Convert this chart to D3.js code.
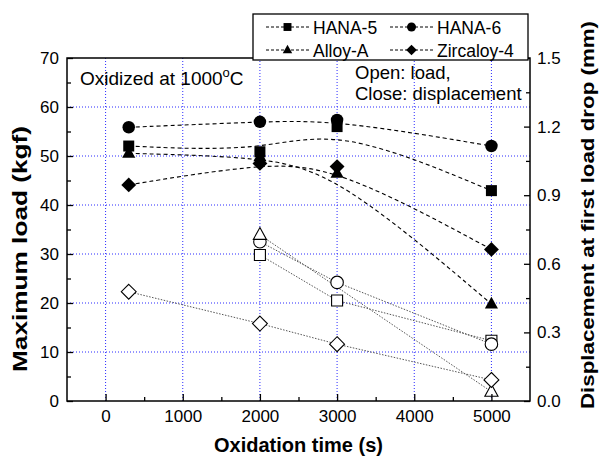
<!DOCTYPE html>
<html><head><meta charset="utf-8">
<script src="https://cdn.jsdelivr.net/npm/d3@7"></script>
<style>
body{margin:0;background:#fff;}
svg{display:block;font-family:"Liberation Sans",Arial,sans-serif;}
</style></head>
<body><svg id="c" width="600" height="457"></svg>
<script>
// ---- data ----
const times = [300, 2000, 3000, 5000];
const seriesNames = ["HANA-5", "HANA-6", "Alloy-A", "Zircaloy-4"];
const seriesSymbols = ["square", "circle", "triangle", "diamond"];
// closed symbols: displacement at first load drop (mm), right axis
const dispHANA5 = [1.115, 1.090, 1.200, 0.920];
const dispHANA6 = [1.197, 1.221, 1.229, 1.115];
const dispAlloyA = [1.083, 1.068, 0.996, 0.424];
const dispZry4 = [0.945, 1.039, 1.025, 0.663];
// open symbols: maximum load (kgf), left axis
const loadHANA5 = [null, 29.8, 20.5, 12.3];
const loadHANA6 = [null, 32.5, 24.2, 11.6];
const loadAlloyA = [null, 33.9, null, 1.9];
const loadZry4 = [22.3, 15.8, 11.6, 4.3];
const xTicks = [0, 1000, 2000, 3000, 4000, 5000];
const yLeftTicks = [0, 10, 20, 30, 40, 50, 60, 70];
const yRightTicks = [0.0, 0.3, 0.6, 0.9, 1.2, 1.5];

const dispData = [dispHANA5, dispHANA6, dispAlloyA, dispZry4];
const loadData = [loadHANA5, loadHANA6, loadAlloyA, loadZry4];

// ---- layout ----
const L = 67, R = 530, T = 58, B = 401;
const svg = d3.select("#c");
const x = d3.scaleLinear().domain([-500, 5500]).range([L, R]);
const yL = d3.scaleLinear().domain([0, 70]).range([B, T]);
const yR = d3.scaleLinear().domain([0, 1.5]).range([B, T]);

// grid
const grid = svg.append("g").attr("stroke", "#2a2aff").attr("stroke-width", 1).attr("stroke-dasharray", "1,2");
grid.selectAll(".gx").data(xTicks).join("line")
  .attr("x1", d => x(d)).attr("x2", d => x(d)).attr("y1", T).attr("y2", B);
grid.selectAll(".gy").data(yLeftTicks.filter(d => d > 0 && d < 70)).join("line")
  .attr("x1", L).attr("x2", R).attr("y1", d => yL(d)).attr("y2", d => yL(d));

// marker path
function sym(type, s) {
  if (type === "square") return d3.symbol(d3.symbolSquare, s * s)();
  if (type === "circle") return d3.symbol(d3.symbolCircle, Math.PI * s * s / 4)();
  if (type === "triangle") {
    const h = s * 0.95, w = s * 1.05;
    return `M0,${-h * 0.62}L${w / 2},${h * 0.38}L${-w / 2},${h * 0.38}Z`;
  }
  const r = s * 0.62;
  return `M0,${-r}L${r},0L0,${r}L${-r},0Z`;
}
const symSize = {square: 11, circle: 12.5, triangle: 12.5, diamond: 12};

// open (load) lines
const openLine = d3.line().x(d => x(d[0])).y(d => yL(d[1])).curve(d3.curveLinear);
loadData.forEach((arr, i) => {
  const pts = times.map((t, j) => [t, arr[j]]).filter(d => d[1] != null);
  svg.append("path").attr("d", openLine(pts)).attr("fill", "none")
    .attr("stroke", "#555").attr("stroke-width", 1).attr("stroke-dasharray", "1.5,1.5");
});
// closed (displacement) lines
const closedLine = d3.line().x(d => x(d[0])).y(d => yR(d[1])).curve(d3.curveBasis);
dispData.forEach((arr, i) => {
  const pts = times.map((t, j) => [t, arr[j]]);
  svg.append("path").attr("d", closedLine(pts)).attr("fill", "none")
    .attr("stroke", "#000").attr("stroke-width", 1.1).attr("stroke-dasharray", "4,3");
});
loadData.forEach((arr, i) => {
  const pts = times.map((t, j) => [t, arr[j]]).filter(d => d[1] != null);
  svg.append("g").selectAll("path").data(pts).join("path")
    .attr("transform", d => `translate(${x(d[0])},${yL(d[1])})`)
    .attr("d", sym(seriesSymbols[i], symSize[seriesSymbols[i]]))
    .attr("fill", "#fff").attr("stroke", "#000").attr("stroke-width", 1.1);
});
dispData.forEach((arr, i) => {
  const pts = times.map((t, j) => [t, arr[j]]);
  svg.append("g").selectAll("path").data(pts).join("path")
    .attr("transform", d => `translate(${x(d[0])},${yR(d[1])})`)
    .attr("d", sym(seriesSymbols[i], symSize[seriesSymbols[i]]))
    .attr("fill", "#000");
});

// axes
const fs = "17px";
function styleAxis(g) {
  g.select(".domain").remove();
  g.selectAll("line").attr("stroke", "#000").attr("stroke-width", 1.3);
  g.selectAll("text").attr("font-size", fs).attr("fill", "#000").attr("font-family", null);
}
svg.append("g").attr("transform", `translate(0,${B})`)
  .call(d3.axisBottom(x).tickValues(xTicks).tickSize(-7).tickPadding(9).tickFormat(d3.format("d"))).call(styleAxis);
svg.append("g").attr("transform", `translate(0,${B})`)
  .call(d3.axisBottom(x).tickValues(d3.range(500, 5000, 1000)).tickSize(-4).tickFormat("")).call(styleAxis);
svg.append("g").attr("transform", `translate(${L},0)`)
  .call(d3.axisLeft(yL).tickValues(yLeftTicks).tickSize(-6).tickPadding(8).tickFormat(d3.format("d"))).call(styleAxis);
svg.append("g").attr("transform", `translate(${L},0)`)
  .call(d3.axisLeft(yL).tickValues(d3.range(5, 70, 10)).tickSize(-4).tickFormat("")).call(styleAxis);
svg.append("g").attr("transform", `translate(${R},0)`)
  .call(d3.axisRight(yR).tickValues(yRightTicks).tickSize(-6).tickPadding(7).tickFormat(d3.format(".1f"))).call(styleAxis);
svg.append("g").attr("transform", `translate(${R},0)`)
  .call(d3.axisRight(yR).tickValues([0.15, 0.45, 0.75, 1.05, 1.35]).tickSize(-4).tickFormat("")).call(styleAxis);

// frame
svg.append("rect").attr("x", L).attr("y", T).attr("width", R - L).attr("height", B - T)
  .attr("fill", "none").attr("stroke", "#000").attr("stroke-width", 1.5);

// titles
svg.append("text").attr("x", (L + R) / 2).attr("y", 452).attr("text-anchor", "middle")
  .attr("font-size", "20px").attr("font-weight", "bold").text("Oxidation time (s)");
svg.append("text").attr("transform", `translate(27,249) rotate(-90)`).attr("text-anchor", "middle")
  .attr("font-size", "20px").attr("font-weight", "bold")
  .attr("textLength", 246).attr("lengthAdjust", "spacingAndGlyphs").text("Maximum load (kgf)");
svg.append("text").attr("transform", `translate(594,215) rotate(-90)`).attr("text-anchor", "middle")
  .attr("font-size", "19px").attr("font-weight", "bold")
  .attr("textLength", 388).attr("lengthAdjust", "spacingAndGlyphs").text("Displacement at first load drop (mm)");

// annotations
const ann = svg.append("text").attr("x", 80).attr("y", 85).attr("font-size", "19px");
ann.append("tspan").text("Oxidized at 1000");
ann.append("tspan").attr("dy", -8).attr("font-size", "13px").text("o");
ann.append("tspan").attr("dy", 8).text("C");
svg.append("text").attr("x", 355).attr("y", 79).attr("font-size", "18.5px").text("Open: load,");
svg.append("text").attr("x", 355).attr("y", 100).attr("font-size", "18.5px").text("Close: displacement");

// legend
const lg = svg.append("g");
lg.append("rect").attr("x", 253).attr("y", 14).attr("width", 275).attr("height", 46)
  .attr("fill", "#fff").attr("stroke", "#000").attr("stroke-width", 1.3);
const legPos = [[266, 27], [390, 27], [266, 50], [390, 50]];
seriesNames.forEach((n, i) => {
  const [lx, ly] = legPos[i];
  lg.append("line").attr("x1", lx).attr("x2", lx + 43).attr("y1", ly).attr("y2", ly)
    .attr("stroke", "#000").attr("stroke-width", 1).attr("stroke-dasharray", "3,2");
  lg.append("path").attr("transform", `translate(${lx + 21.5},${ly})`)
    .attr("d", sym(seriesSymbols[i], symSize[seriesSymbols[i]] * 0.72)).attr("fill", "#000");
  lg.append("text").attr("x", lx + 47).attr("y", ly + 6.5).attr("font-size", "17.5px").text(n);
});
</script></body></html>
